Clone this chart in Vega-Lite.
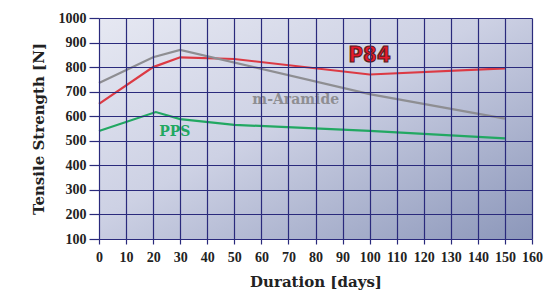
{
  "$schema": "https://vega.github.io/schema/vega-lite/v6.json",
  "width": 433,
  "height": 221,
  "autosize": {"type": "none"},
  "padding": {"left": 99, "top": 18, "right": 15, "bottom": 54},
  "background": "white",
  "config": {
    "view": {"stroke": null},
    "axisX": {"tickCount": 16, "values": [0,10,20,30,40,50,60,70,80,90,100,110,120,130,140,150,160]},
    "axisY": {"tickCount": 9, "values": [100,200,300,400,500,600,700,800,900,1000]}
  },
  "datasets": {
    "series": [
      {"material": "P84", "days": 0, "strength": 650},
      {"material": "P84", "days": 20, "strength": 800},
      {"material": "P84", "days": 30, "strength": 840},
      {"material": "P84", "days": 50, "strength": 833},
      {"material": "P84", "days": 100, "strength": 770},
      {"material": "P84", "days": 150, "strength": 795},
      {"material": "m-Aramide", "days": 0, "strength": 735},
      {"material": "m-Aramide", "days": 20, "strength": 840},
      {"material": "m-Aramide", "days": 30, "strength": 870},
      {"material": "m-Aramide", "days": 100, "strength": 690},
      {"material": "m-Aramide", "days": 150, "strength": 590},
      {"material": "PPS", "days": 0, "strength": 540},
      {"material": "PPS", "days": 21, "strength": 617},
      {"material": "PPS", "days": 30, "strength": 588},
      {"material": "PPS", "days": 50, "strength": 565},
      {"material": "PPS", "days": 100, "strength": 540},
      {"material": "PPS", "days": 150, "strength": 510}
    ],
    "bg": [{"x0": 0, "x1": 160, "y0": 100, "y1": 1000}],
    "labels": [
      {"material": "m-Aramide", "days": 72.7, "strength": 665},
      {"material": "PPS", "days": 28, "strength": 535}
    ],
    "p84": [{"material": "P84", "days": 100, "strength": 850}]
  },
  "encoding": {
    "x": {
      "type": "quantitative",
      "scale": {"domain": [0, 160], "nice": false},
      "axis": {
        "zindex": 1, "labelOverlap": false, "labelFlush": false, "format": "d",
        "grid": true, "gridColor": "#2a2a7c", "gridWidth": 1.2, "gridOpacity": 1,
        "domain": false, "ticks": true, "tickSize": 5, "tickColor": "#2a2a7c", "tickWidth": 1.2,
        "labelFont": "Liberation Serif", "labelFontWeight": "bold", "labelFontSize": 14, "labelColor": "#222",
        "labelPadding": 6,
        "title": "Duration [days]", "titleFont": "DejaVu Serif", "titleFontWeight": "bold",
        "titleFontSize": 15, "titleColor": "#222", "titlePadding": 10
      }
    },
    "y": {
      "type": "quantitative",
      "scale": {"domain": [100, 1000], "nice": false, "zero": false},
      "axis": {
        "zindex": 1, "labelOverlap": false, "labelFlush": false, "format": "d",
        "grid": true, "gridColor": "#2a2a7c", "gridWidth": 1.2, "gridOpacity": 1,
        "domain": false, "ticks": true, "tickSize": 10, "tickColor": "#2a2a7c", "tickWidth": 1.2,
        "labelFont": "Liberation Serif", "labelFontWeight": "bold", "labelFontSize": 14, "labelColor": "#222",
        "labelPadding": 3,
        "title": "Tensile Strength [N]", "titleFont": "DejaVu Serif", "titleFontWeight": "bold",
        "titleFontSize": 15, "titleColor": "#222", "titlePadding": 12
      }
    }
  },
  "layer": [
    {
      "data": {"name": "bg"},
      "mark": {
        "type": "rect",
        "fill": {
          "gradient": "linear", "x1": 0, "y1": 0, "x2": 1, "y2": 1,
          "stops": [
            {"offset": 0, "color": "#e6e8f2"},
            {"offset": 0.45, "color": "#cdd1e4"},
            {"offset": 1, "color": "#8c97ba"}
          ]
        }
      },
      "encoding": {
        "x": {"field": "x0"},
        "x2": {"field": "x1"},
        "y": {"field": "y0"},
        "y2": {"field": "y1"}
      }
    },
    {
      "data": {"name": "series"},
      "mark": {"type": "line", "strokeWidth": 2.2},
      "encoding": {
        "x": {"field": "days"},
        "y": {"field": "strength"},
        "color": {
          "field": "material", "type": "nominal", "legend": null,
          "scale": {"domain": ["P84", "m-Aramide", "PPS"], "range": ["#dc3a44", "#8e8e92", "#22a862"]}
        }
      }
    },
    {
      "data": {"name": "labels"},
      "mark": {"type": "text", "font": "DejaVu Serif", "fontWeight": "bold", "fontSize": 14},
      "encoding": {
        "x": {"field": "days"},
        "y": {"field": "strength"},
        "text": {"field": "material"},
        "color": {"field": "material", "type": "nominal", "legend": null}
      }
    },
    {
      "data": {"name": "p84"},
      "mark": {"type": "text", "font": "DejaVu Sans Condensed", "fontWeight": "bold", "fontSize": 22, "fill": "#e8192c", "stroke": "#5a2020", "strokeWidth": 1.2},
      "encoding": {
        "x": {"field": "days"},
        "y": {"field": "strength"},
        "text": {"field": "material"}
      }
    }
  ]
}
